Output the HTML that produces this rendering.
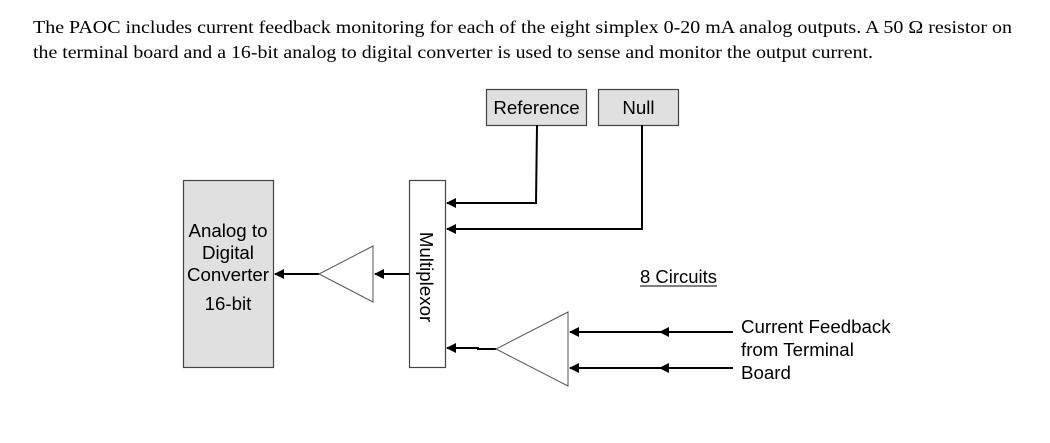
<!DOCTYPE html>
<html><head><meta charset="utf-8"><style>
html,body{margin:0;padding:0;background:#fff;width:1050px;height:443px;overflow:hidden}
svg{display:block}
.s{font-family:"Liberation Sans",Arial,sans-serif;font-size:18.7px;fill:#000}
.t{font-family:"Liberation Serif","Times New Roman",serif;font-size:18px;fill:#000}
</style></head><body>
<svg width="1050" height="443" viewBox="0 0 1050 443" xmlns="http://www.w3.org/2000/svg">
<defs>
<marker id="a" markerWidth="10" markerHeight="10" refX="9" refY="5" orient="auto" markerUnits="userSpaceOnUse">
<path d="M0,0 L10,5 L0,10 Z" fill="#000"/></marker>
</defs>
<text class="t" x="33" y="33" textLength="979" lengthAdjust="spacingAndGlyphs">The PAOC includes current feedback monitoring for each of the eight simplex 0-20 mA analog outputs. A 50 Ω resistor on</text>
<text class="t" x="33" y="58" textLength="840" lengthAdjust="spacingAndGlyphs">the terminal board and a 16-bit analog to digital converter is used to sense and monitor the output current.</text>

<rect x="486.5" y="89.5" width="100" height="36" fill="#e0e0e0" stroke="#444" stroke-width="1.2"/>
<text class="s" x="536.5" y="114" text-anchor="middle">Reference</text>
<rect x="598.5" y="89.5" width="80" height="36" fill="#e0e0e0" stroke="#444" stroke-width="1.2"/>
<text class="s" x="638.5" y="114" text-anchor="middle">Null</text>

<rect x="183.5" y="180.5" width="90" height="187" fill="#e0e0e0" stroke="#444" stroke-width="1.2"/>
<text class="s" x="228" y="237" text-anchor="middle">Analog to</text>
<text class="s" x="228" y="259" text-anchor="middle">Digital</text>
<text class="s" x="228" y="281" text-anchor="middle">Converter</text>
<text class="s" x="228" y="310" text-anchor="middle">16-bit</text>

<rect x="409.5" y="180.5" width="36" height="187" fill="#fff" stroke="#444" stroke-width="1.2"/>
<text class="s" transform="translate(420,277) rotate(90)" text-anchor="middle">Multiplexor</text>

<g stroke="#000" stroke-width="2" fill="none">
<polyline points="537,125 536,203 447,203" marker-end="url(#a)"/>
<polyline points="642,125 642,229 447,229" marker-end="url(#a)"/>
<line x1="409" y1="274" x2="375" y2="274" marker-end="url(#a)"/>
<line x1="319" y1="274" x2="275" y2="274" marker-end="url(#a)"/>
<polyline points="496,349 478,349 478,348 447,348" marker-end="url(#a)"/>
<line x1="660" y1="332" x2="570" y2="332" marker-end="url(#a)"/>
<line x1="733" y1="332" x2="660" y2="332" marker-end="url(#a)"/>
<line x1="660" y1="368" x2="570" y2="368" marker-end="url(#a)"/>
<line x1="733" y1="368" x2="660" y2="368" marker-end="url(#a)"/>
</g>
<polygon points="373,246 373,302 319,274" fill="#fff" stroke="#555" stroke-width="1"/>
<polygon points="568,312 568,386 496,349" fill="#fff" stroke="#555" stroke-width="1"/>

<text class="s" x="640" y="283" textLength="77" lengthAdjust="spacingAndGlyphs">8 Circuits</text>
<line x1="640" y1="286" x2="717" y2="286" stroke="#000" stroke-width="1"/>
<text class="s" x="741" y="333">Current Feedback</text>
<text class="s" x="741" y="356">from Terminal</text>
<text class="s" x="741" y="379">Board</text>
</svg>
</body></html>
